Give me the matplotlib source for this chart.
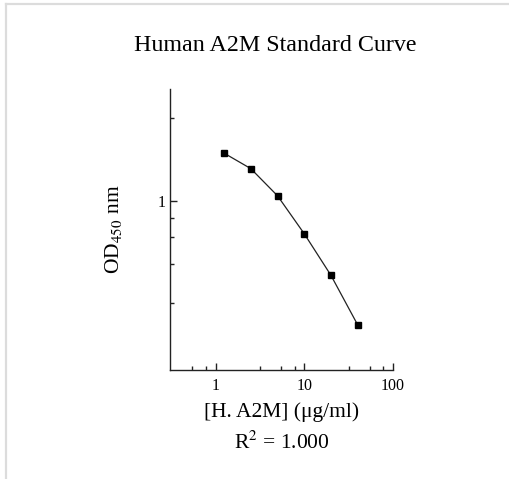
import matplotlib
matplotlib.use("Agg")
import matplotlib.pyplot as plt
from matplotlib.lines import Line2D
from matplotlib.ticker import FixedLocator, NullFormatter

# standard curve data
conc = [1.25, 2.5, 5, 10, 20, 40]          # ug/ml
od450 = [1.49, 1.31, 1.045, 0.762, 0.539, 0.357]

x_ticks = [1, 10, 100]
x_tick_labels = ["1", "10", "100"]
y_ticks = [1]
y_tick_labels = ["1"]

plt.rcParams['font.family'] = ['Liberation Serif', 'DejaVu Serif']
plt.rcParams['mathtext.fontset'] = 'stix'

fig = plt.figure(figsize=(5.09, 4.79), dpi=100)
ax = fig.add_axes([0.334, 0.2275, 0.438, 0.5865])

ax.plot(conc, od450, color='#222222', lw=0.9, marker='s', ms=4.6,
        mfc='black', mec='black')

ax.set_xscale('log')
ax.set_yscale('log')
ax.set_xlim(0.307, 100)
ax.set_ylim(0.245, 2.54)

ax.xaxis.set_major_locator(FixedLocator(x_ticks))
ax.set_xticklabels(x_tick_labels)
ax.xaxis.set_minor_locator(FixedLocator([0.55, 0.79, 3.2, 5.5, 7.8, 32, 55, 78]))
ax.xaxis.set_minor_formatter(NullFormatter())
ax.yaxis.set_major_locator(FixedLocator(y_ticks))
ax.set_yticklabels(y_tick_labels)
ax.yaxis.set_minor_locator(FixedLocator([2.0, 0.87, 0.741, 0.594, 0.428]))
ax.yaxis.set_minor_formatter(NullFormatter())

for s in ['top', 'right']:
    ax.spines[s].set_visible(False)
for s in ['left', 'bottom']:
    ax.spines[s].set_linewidth(1.0)
    ax.spines[s].set_color('#222222')
ax.tick_params(which='major', direction='in', length=5, width=1, labelsize=11.5,
               color='#222222', pad=6)
ax.tick_params(axis='y', which='major', pad=3.5)
ax.tick_params(which='minor', direction='in', length=3, width=1, color='#222222')

ax.set_ylabel(r'OD$_{450}$ nm', fontsize=15.5, labelpad=24)
ax.set_xlabel('[H. A2M] (\u03bcg/ml)\n' + r'R$^2$ = 1.000', fontsize=15.5,
              labelpad=6, linespacing=1.55)

fig.text(0.54, 0.905, 'Human A2M Standard Curve', ha='center', va='center',
         fontsize=17.3)

# light frame of the original picture
fig.add_artist(Line2D([6 / 509, 6 / 509], [0, 1 - 4 / 479], transform=fig.transFigure,
                      color='#dcdcdc', lw=1.6))
fig.add_artist(Line2D([6 / 509, 1], [1 - 4 / 479, 1 - 4 / 479], transform=fig.transFigure,
                      color='#dcdcdc', lw=1.6))

fig.savefig('out.png', dpi=100)
